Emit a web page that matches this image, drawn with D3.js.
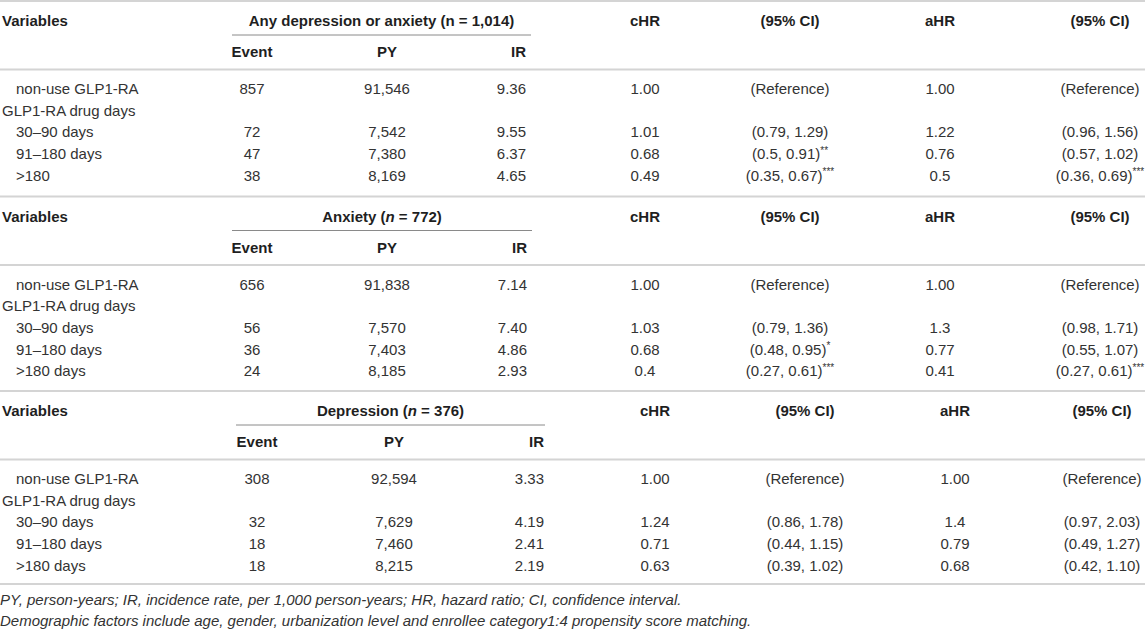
<!DOCTYPE html>
<html>
<head>
<meta charset="utf-8">
<script src="https://cdn.jsdelivr.net/npm/d3@7"></script>
<style>
  html, body { margin: 0; padding: 0; background: #fff; }
  svg { display: block; }
  text { font-family: "Liberation Sans", Arial, Helvetica, sans-serif; font-size: 15px; }
</style>
</head>
<body>
<svg id="chart" width="1145" height="630"></svg>
<script>
// ---------- data ----------
const groupNames = ["Any depression or anxiety", "Anxiety", "Depression"];
const groupN = ["1,014", "772", "376"];
const groupNItalic = [false, true, true];
const subHeaders = ["Event", "PY", "IR"];
const rightHeaders = ["cHR", "(95% CI)", "aHR", "(95% CI)"];
const rowLabels = [
  ["non-use GLP1-RA", "GLP1-RA drug days", "30–90 days", "91–180 days", ">180"],
  ["non-use GLP1-RA", "GLP1-RA drug days", "30–90 days", "91–180 days", ">180 days"],
  ["non-use GLP1-RA", "GLP1-RA drug days", "30–90 days", "91–180 days", ">180 days"]
];
const events = [
  [857, null, 72, 47, 38],
  [656, null, 56, 36, 24],
  [308, null, 32, 18, 18]
];
const personYears = [
  [91546, null, 7542, 7380, 8169],
  [91838, null, 7570, 7403, 8185],
  [92594, null, 7629, 7460, 8215]
];
const incidenceRate = [
  [9.36, null, 9.55, 6.37, 4.65],
  [7.14, null, 7.40, 4.86, 2.93],
  [3.33, null, 4.19, 2.41, 2.19]
];
const cHR = [
  ["1.00", null, "1.01", "0.68", "0.49"],
  ["1.00", null, "1.03", "0.68", "0.4"],
  ["1.00", null, "1.24", "0.71", "0.63"]
];
const cCI = [
  ["(Reference)", null, "(0.79, 1.29)", "(0.5, 0.91)", "(0.35, 0.67)"],
  ["(Reference)", null, "(0.79, 1.36)", "(0.48, 0.95)", "(0.27, 0.61)"],
  ["(Reference)", null, "(0.86, 1.78)", "(0.44, 1.15)", "(0.39, 1.02)"]
];
const cSig = [
  ["", null, "", "**", "***"],
  ["", null, "", "*", "***"],
  ["", null, "", "", ""]
];
const aHR = [
  ["1.00", null, "1.22", "0.76", "0.5"],
  ["1.00", null, "1.3", "0.77", "0.41"],
  ["1.00", null, "1.4", "0.79", "0.68"]
];
const aCI = [
  ["(Reference)", null, "(0.96, 1.56)", "(0.57, 1.02)", "(0.36, 0.69)"],
  ["(Reference)", null, "(0.98, 1.71)", "(0.55, 1.07)", "(0.27, 0.61)"],
  ["(Reference)", null, "(0.97, 2.03)", "(0.49, 1.27)", "(0.42, 1.10)"]
];
const aSig = [
  ["", null, "", "", "***"],
  ["", null, "", "", "***"],
  ["", null, "", "", ""]
];
const footnotes = [
  "PY, person-years; IR, incidence rate, per 1,000 person-years; HR, hazard ratio; CI, confidence interval.",
  "Demographic factors include age, gender, urbanization level and enrollee category1:4 propensity score matching."
];

// ---------- layout ----------
const W = 1145;
const svg = d3.select("#chart");
svg.append("rect").attr("width", W).attr("height", 630).attr("fill", "#fff");

const colKeys = ["event", "py", "ir", "chr", "cci", "ahr", "aci"];
const colAnchor = d3.scaleOrdinal().domain(colKeys)
  .range(["middle", "middle", "end", "middle", "middle", "middle", "middle"]);
const sectionTops = [1, 196.5, 391];
const sectionCols = [
  [252, 387, 526, 645, 790, 940, 1100],
  [252, 387, 527, 645, 790, 940, 1100],
  [257, 394, 544, 655, 805, 955, 1102]
];
const underlineSpan = [[232, 531], [232, 532], [236, 545]];

const fmtInt = d3.format(",");
const fmtIR = d3.format(".2f");
const ruleColor = "#d4d4d4";
const boldColor = "#1f1f1f";
const textColor = "#333";
const fmtVal = (v, f) => v == null ? "" : (f ? f(v) : v);

groupNames.forEach((g, s) => {
  const top = sectionTops[s];
  const x = d3.scaleOrdinal().domain(colKeys).range(sectionCols[s]);
  const y = d3.scaleLinear().domain([0, 4]).range([top + 88, top + 88 + 4 * 21.6]);
  const grp = svg.append("g");

  // top rule
  grp.append("line").attr("x1", 0).attr("x2", W)
    .attr("y1", top).attr("y2", top)
    .attr("stroke", ruleColor).attr("stroke-width", 2);

  const titleY = top + 20;
  grp.append("text").attr("x", 2).attr("y", titleY).attr("dy", "0.35em")
    .attr("font-weight", "bold").attr("fill", boldColor).text("Variables");

  // group header
  const [u0, u1] = underlineSpan[s];
  const gt = grp.append("text").attr("x", (u0 + u1) / 2).attr("y", titleY).attr("dy", "0.35em")
    .attr("text-anchor", "middle").attr("font-weight", "bold").attr("fill", boldColor)
    .attr("font-size", "15.5px");
  gt.append("tspan").text(g + " (");
  gt.append("tspan").attr("font-style", groupNItalic[s] ? "italic" : "normal").text("n");
  gt.append("tspan").text(" = " + groupN[s] + ")");

  grp.append("line").attr("x1", u0).attr("x2", u1)
    .attr("y1", top + 34).attr("y2", top + 34)
    .attr("stroke", "#8a8a8a").attr("stroke-width", 1);

  // right headers on title row
  ["chr", "cci", "ahr", "aci"].forEach((k, i) => {
    grp.append("text").attr("x", x(k)).attr("y", titleY).attr("dy", "0.35em")
      .attr("text-anchor", colAnchor(k)).attr("font-weight", "bold").attr("fill", boldColor)
      .text(rightHeaders[i]);
  });
  // sub headers
  ["event", "py", "ir"].forEach((k, i) => {
    grp.append("text").attr("x", x(k)).attr("y", top + 51).attr("dy", "0.35em")
      .attr("text-anchor", colAnchor(k)).attr("font-weight", "bold").attr("fill", boldColor)
      .text(subHeaders[i]);
  });

  grp.append("line").attr("x1", 0).attr("x2", W)
    .attr("y1", top + 68.5).attr("y2", top + 68.5)
    .attr("stroke", ruleColor).attr("stroke-width", 2);

  // rows
  rowLabels[s].forEach((lab, r) => {
    const yy = y(r);
    grp.append("text").attr("x", r === 1 ? 2 : 16).attr("y", yy).attr("dy", "0.35em")
      .attr("fill", textColor).text(lab);
    const cells = [
      ["event", fmtVal(events[s][r])],
      ["py", fmtVal(personYears[s][r], fmtInt)],
      ["ir", fmtVal(incidenceRate[s][r], fmtIR)],
      ["chr", fmtVal(cHR[s][r])],
      ["ahr", fmtVal(aHR[s][r])]
    ];
    cells.forEach(([k, v]) => {
      if (!v) return;
      grp.append("text").attr("x", x(k)).attr("y", yy).attr("dy", "0.35em")
        .attr("text-anchor", colAnchor(k)).attr("fill", textColor).text(v);
    });
    [["cci", cCI, cSig], ["aci", aCI, aSig]].forEach(([k, arr, sig]) => {
      const v = arr[s][r];
      if (!v) return;
      const t = grp.append("text").attr("x", x(k)).attr("y", yy).attr("dy", "0.35em")
        .attr("text-anchor", colAnchor(k)).attr("fill", textColor);
      t.append("tspan").text(v);
      if (sig[s][r]) {
        t.append("tspan").attr("font-size", "10px").attr("dy", "-0.55em").text(sig[s][r]);
      }
    });
  });
});

// bottom rule
svg.append("line").attr("x1", 0).attr("x2", W).attr("y1", 584).attr("y2", 584)
  .attr("stroke", ruleColor).attr("stroke-width", 2);

footnotes.forEach((f, i) => {
  svg.append("text").attr("x", 0).attr("y", 600 + i * 20.5).attr("dy", "0.35em")
    .attr("font-style", "italic").attr("font-size", "14.2px").attr("fill", textColor).text(f);
});
</script>
</body>
</html>
